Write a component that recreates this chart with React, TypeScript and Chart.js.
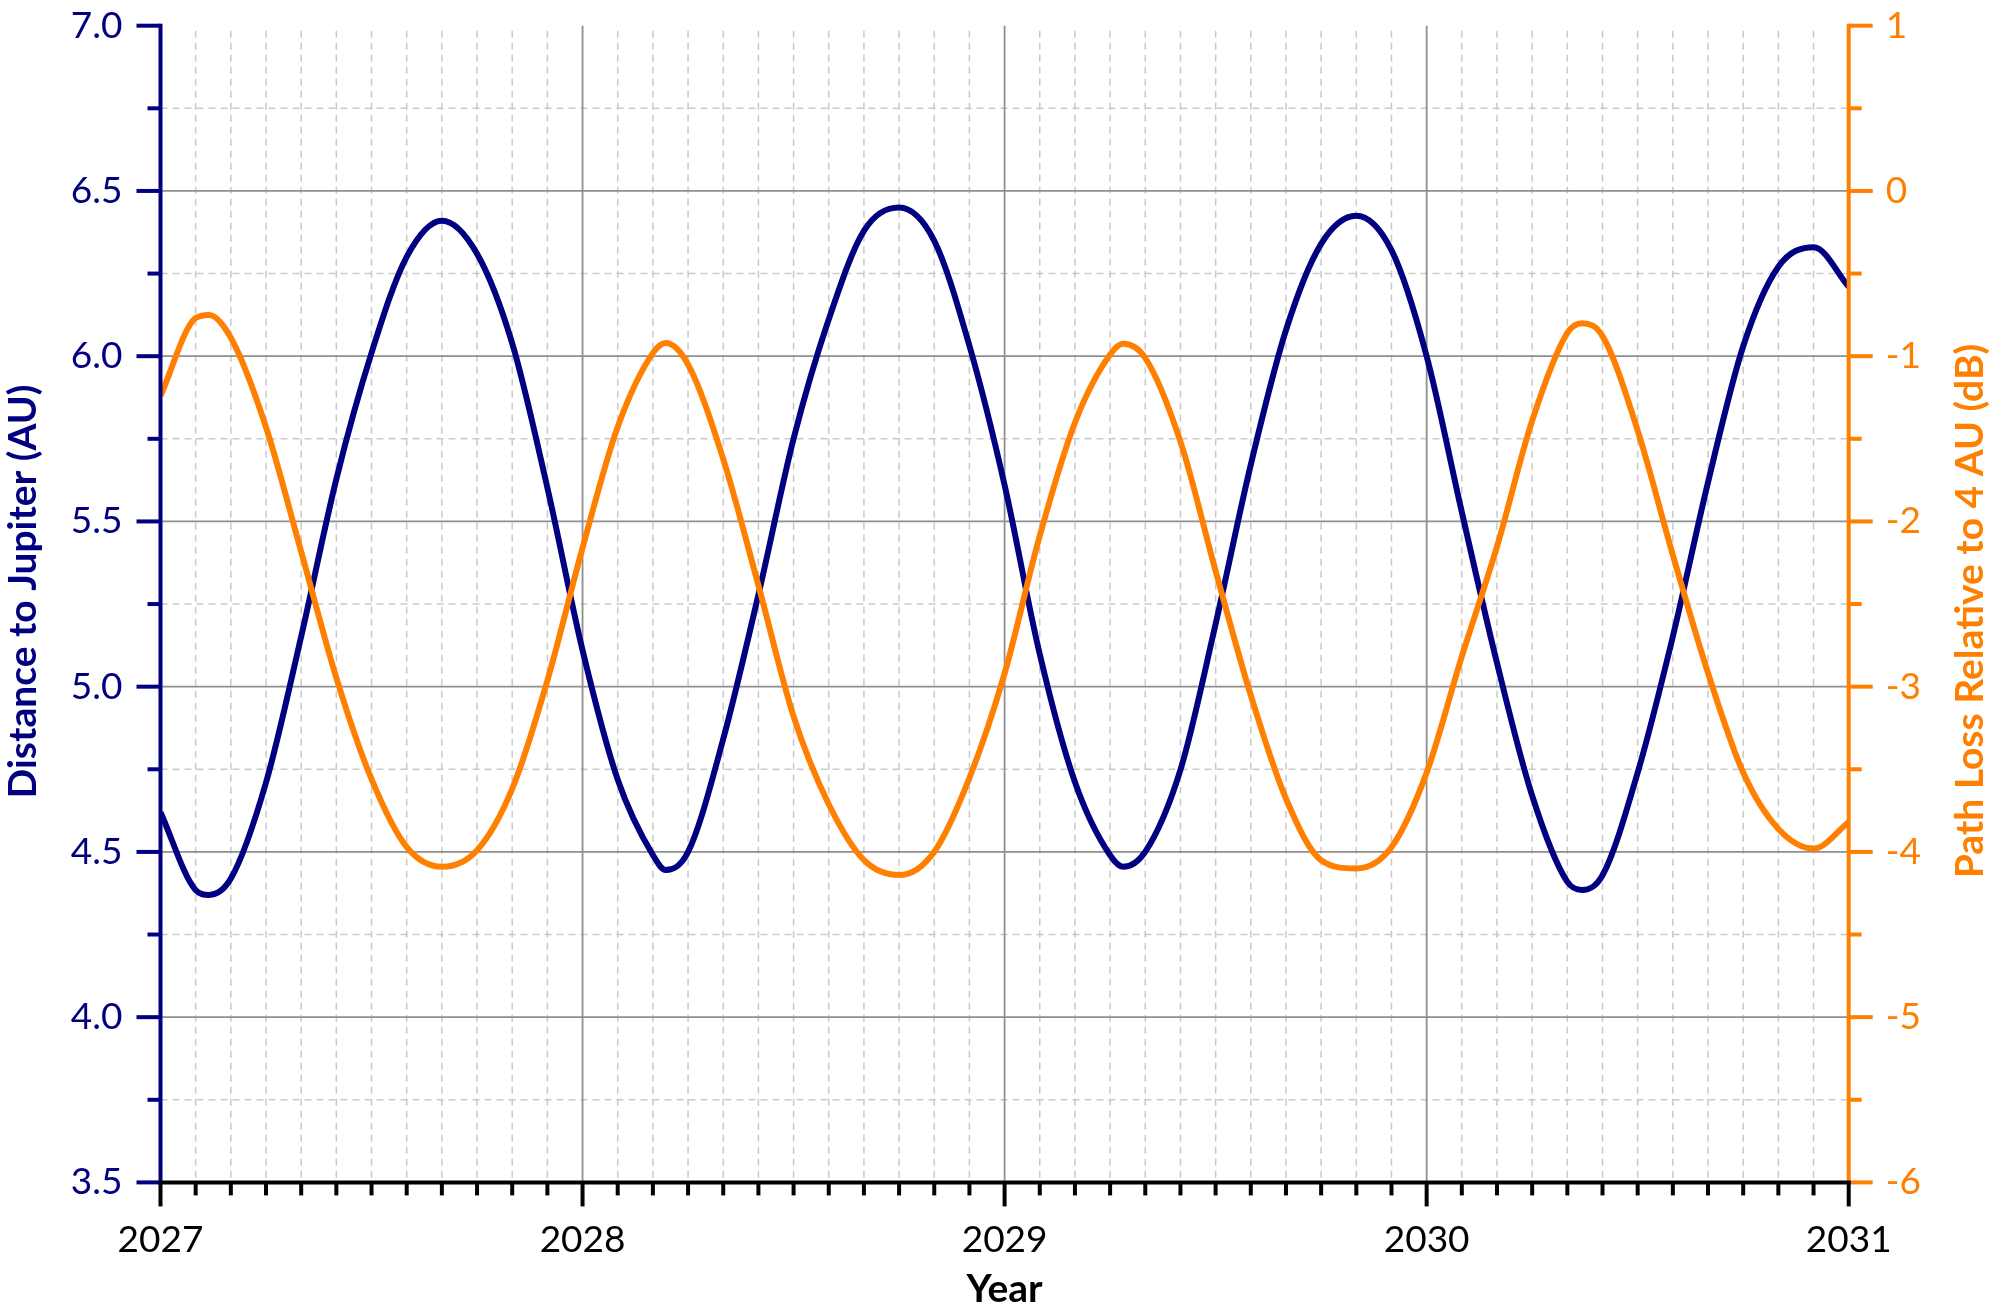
import React, { useEffect, useRef } from 'react';
import { Chart, registerables } from 'chart.js';

Chart.register(...registerables);

// ---- data ----
const years = [
  2027.000, 2027.083, 2027.115, 2027.167, 2027.250, 2027.333, 2027.417, 2027.500, 2027.583, 2027.667, 2027.750, 2027.833, 2027.917,
  2028.000, 2028.083, 2028.167, 2028.197, 2028.250, 2028.333, 2028.417, 2028.500, 2028.583, 2028.667, 2028.750, 2028.833, 2028.917,
  2029.000, 2029.083, 2029.167, 2029.250, 2029.281, 2029.333, 2029.417, 2029.500, 2029.583, 2029.667, 2029.750, 2029.833, 2029.917,
  2030.000, 2030.083, 2030.167, 2030.250, 2030.333, 2030.368, 2030.417, 2030.500, 2030.583, 2030.667, 2030.750, 2030.833, 2030.917,
  2031.000,
];

const distanceAU = [
  4.62, 4.385, 4.37, 4.42, 4.71, 5.15, 5.63, 6.01, 6.30, 6.41, 6.31, 6.04, 5.60,
  5.11, 4.72, 4.49, 4.445, 4.50, 4.84, 5.28, 5.75, 6.11, 6.38, 6.45, 6.35, 6.03,
  5.61, 5.10, 4.71, 4.49, 4.455, 4.50, 4.75, 5.19, 5.67, 6.08, 6.34, 6.425, 6.32,
  6.00, 5.53, 5.07, 4.67, 4.41, 4.385, 4.43, 4.74, 5.15, 5.62, 6.03, 6.27, 6.33,
  6.21,
];

const pathLossDB = [
  -1.24, -0.77, -0.75, -0.89, -1.43, -2.18, -2.95, -3.56, -3.97, -4.09, -3.99, -3.62, -2.96,
  -2.16, -1.43, -0.98, -0.92, -1.05, -1.62, -2.39, -3.18, -3.71, -4.05, -4.14, -4.00, -3.55,
  -2.92, -2.09, -1.40, -0.99, -0.925, -1.01, -1.52, -2.30, -3.05, -3.68, -4.05, -4.10, -3.97,
  -3.52, -2.82, -2.15, -1.39, -0.86, -0.80, -0.88, -1.45, -2.20, -2.92, -3.52, -3.86, -3.98,
  -3.82,
];

const yearTicks = [2027, 2028, 2029, 2030, 2031];
const distanceTicks = [3.5, 4.0, 4.5, 5.0, 5.5, 6.0, 6.5, 7.0];
const lossTicks = [-6, -5, -4, -3, -2, -1, 0, 1];

const xTitle = 'Year';
const leftTitle = 'Distance to Jupiter (AU)';
const rightTitle = 'Path Loss Relative to 4 AU (dB)';

// ---- styles ----
const NAVY = '#000080';
const ORANGE = '#FF8000';
const FONT = 'Lato, "Open Sans", sans-serif';
const W = 2013;
const H = 1311;

function seg(ctx: CanvasRenderingContext2D, x1: number, y1: number, x2: number, y2: number) {
  ctx.beginPath();
  ctx.moveTo(x1, y1);
  ctx.lineTo(x2, y2);
  ctx.stroke();
}

const decorPlugin = {
  id: 'decor',
  beforeDatasetsDraw(chart: any) {
    const { ctx, chartArea: a } = chart;
    const xs = chart.scales.x;
    const ys = chart.scales.y;
    ctx.save();
    // minor dashed grid
    ctx.lineWidth = 1.5;
    ctx.strokeStyle = '#c9c9c9';
    ctx.setLineDash([7, 5]);
    for (let i = 0; i < distanceTicks.length - 1; i++) {
      const py = ys.getPixelForValue((distanceTicks[i] + distanceTicks[i + 1]) / 2);
      seg(ctx, a.left, py, a.right, py);
    }
    for (let i = 0; i < yearTicks.length - 1; i++) {
      for (let m = 1; m < 12; m++) {
        const px = xs.getPixelForValue(yearTicks[i] + m / 12);
        seg(ctx, px, a.top + 5, px, a.bottom);
      }
    }
    // major solid grid
    ctx.setLineDash([]);
    ctx.strokeStyle = '#8f8f8f';
    ctx.lineWidth = 1.8;
    for (let i = 1; i < distanceTicks.length - 1; i++) {
      const py = ys.getPixelForValue(distanceTicks[i]);
      seg(ctx, a.left, py, a.right, py);
    }
    for (let i = 1; i < yearTicks.length - 1; i++) {
      const px = xs.getPixelForValue(yearTicks[i]);
      seg(ctx, px, a.top, px, a.bottom);
    }
    ctx.restore();
  },
  afterDatasetsDraw(chart: any) {
    const { ctx, chartArea: a } = chart;
    const xs = chart.scales.x;
    const ys = chart.scales.y;
    const ys2 = chart.scales.y2;
    const MAJ = 24;
    const MIN = 13;
    ctx.save();
    ctx.lineWidth = 4;
    ctx.lineCap = 'butt';

    // left axis
    ctx.strokeStyle = NAVY;
    seg(ctx, a.left, a.top - 2, a.left, a.bottom + 2);
    for (let i = 0; i < distanceTicks.length; i++) {
      const py = ys.getPixelForValue(distanceTicks[i]);
      seg(ctx, a.left - MAJ, py, a.left, py);
      if (i < distanceTicks.length - 1) {
        const pm = ys.getPixelForValue((distanceTicks[i] + distanceTicks[i + 1]) / 2);
        seg(ctx, a.left - MIN, pm, a.left, pm);
      }
    }

    // right axis
    ctx.strokeStyle = ORANGE;
    seg(ctx, a.right, a.top - 2, a.right, a.bottom + 2);
    for (let i = 0; i < lossTicks.length; i++) {
      const py = ys2.getPixelForValue(lossTicks[i]);
      seg(ctx, a.right, py, a.right + MAJ, py);
      if (i < lossTicks.length - 1) {
        const pm = ys2.getPixelForValue((lossTicks[i] + lossTicks[i + 1]) / 2);
        seg(ctx, a.right, pm, a.right + MIN, pm);
      }
    }

    // bottom axis
    ctx.strokeStyle = '#000000';
    seg(ctx, a.left - 2, a.bottom, a.right + 2, a.bottom);
    for (let i = 0; i < yearTicks.length; i++) {
      const px = xs.getPixelForValue(yearTicks[i]);
      seg(ctx, px, a.bottom, px, a.bottom + MAJ);
      if (i < yearTicks.length - 1) {
        for (let m = 1; m < 12; m++) {
          const pm = xs.getPixelForValue(yearTicks[i] + m / 12);
          seg(ctx, pm, a.bottom, pm, a.bottom + MIN);
        }
      }
    }

    // titles
    ctx.font = `bold 39px ${FONT}`;
    ctx.textAlign = 'center';
    ctx.textBaseline = 'alphabetic';
    ctx.fillStyle = '#000000';
    ctx.fillText(xTitle, (a.left + a.right) / 2, 1302);

    ctx.save();
    ctx.fillStyle = NAVY;
    ctx.translate(36, 591.5);
    ctx.rotate(-Math.PI / 2);
    ctx.fillText(leftTitle, 0, 0);
    ctx.restore();

    ctx.save();
    ctx.fillStyle = ORANGE;
    ctx.translate(1983, 611);
    ctx.rotate(-Math.PI / 2);
    ctx.fillText(rightTitle, 0, 0);
    ctx.restore();

    ctx.restore();
  },
};

export default function App() {
  const canvasRef = useRef<HTMLCanvasElement | null>(null);

  useEffect(() => {
    const canvas = canvasRef.current;
    if (!canvas) return;
    const tickFont = { family: FONT, size: 37 };
    const chart = new Chart(canvas, {
      type: 'line',
      data: {
        datasets: [
          {
            label: rightTitle,
            data: years.map((t, i) => ({ x: t, y: pathLossDB[i] })),
            yAxisID: 'y2',
            borderColor: ORANGE,
            borderWidth: 6,
            pointRadius: 0,
            cubicInterpolationMode: 'monotone',
            fill: false,
            order: 0,
          },
          {
            label: leftTitle,
            data: years.map((t, i) => ({ x: t, y: distanceAU[i] })),
            yAxisID: 'y',
            borderColor: NAVY,
            borderWidth: 6,
            pointRadius: 0,
            cubicInterpolationMode: 'monotone',
            fill: false,
            order: 1,
          },
        ],
      },
      options: {
        animation: false,
        responsive: false,
        devicePixelRatio: 1,
        layout: { padding: { top: 25.7, left: 0, right: 0, bottom: 0 } },
        plugins: {
          legend: { display: false },
          tooltip: { enabled: false },
        },
        scales: {
          x: {
            type: 'linear',
            min: yearTicks[0],
            max: yearTicks[yearTicks.length - 1],
            afterBuildTicks: (s: any) => {
              s.ticks = yearTicks.map((v) => ({ value: v }));
            },
            ticks: {
              callback: (v: any) => String(v),
              font: tickFont,
              color: '#000000',
              padding: 35,
              maxRotation: 0,
              autoSkip: false,
            },
            grid: { display: false, drawTicks: false },
            border: { display: false },
            afterFit: (s: any) => {
              s.height = 128.6;
              s.paddingLeft = 0;
              s.paddingRight = 0;
            },
          },
          y: {
            type: 'linear',
            position: 'left',
            min: distanceTicks[0],
            max: distanceTicks[distanceTicks.length - 1],
            afterBuildTicks: (s: any) => {
              s.ticks = distanceTicks.map((v) => ({ value: v }));
            },
            ticks: {
              callback: (v: any) => Number(v).toFixed(1),
              font: tickFont,
              color: NAVY,
              padding: 38,
            },
            grid: { display: false, drawTicks: false },
            border: { display: false },
            afterFit: (s: any) => {
              s.width = 160.5;
              s.paddingTop = 0;
              s.paddingBottom = 0;
            },
          },
          y2: {
            type: 'linear',
            position: 'right',
            min: lossTicks[0],
            max: lossTicks[lossTicks.length - 1],
            afterBuildTicks: (s: any) => {
              s.ticks = lossTicks.map((v) => ({ value: v }));
            },
            ticks: {
              callback: (v: any) => String(v),
              font: tickFont,
              color: ORANGE,
              padding: 37,
            },
            grid: { display: false, drawTicks: false },
            border: { display: false },
            afterFit: (s: any) => {
              s.width = 164.3;
              s.paddingTop = 0;
              s.paddingBottom = 0;
            },
          },
        },
      },
      plugins: [decorPlugin],
    } as any);
    return () => chart.destroy();
  }, []);

  return (
    <div style={{ position: 'fixed', left: 0, top: 0, width: W, height: H, background: '#ffffff' }}>
      <canvas ref={canvasRef} width={W} height={H} style={{ display: 'block', width: W, height: H }} />
    </div>
  );
}
